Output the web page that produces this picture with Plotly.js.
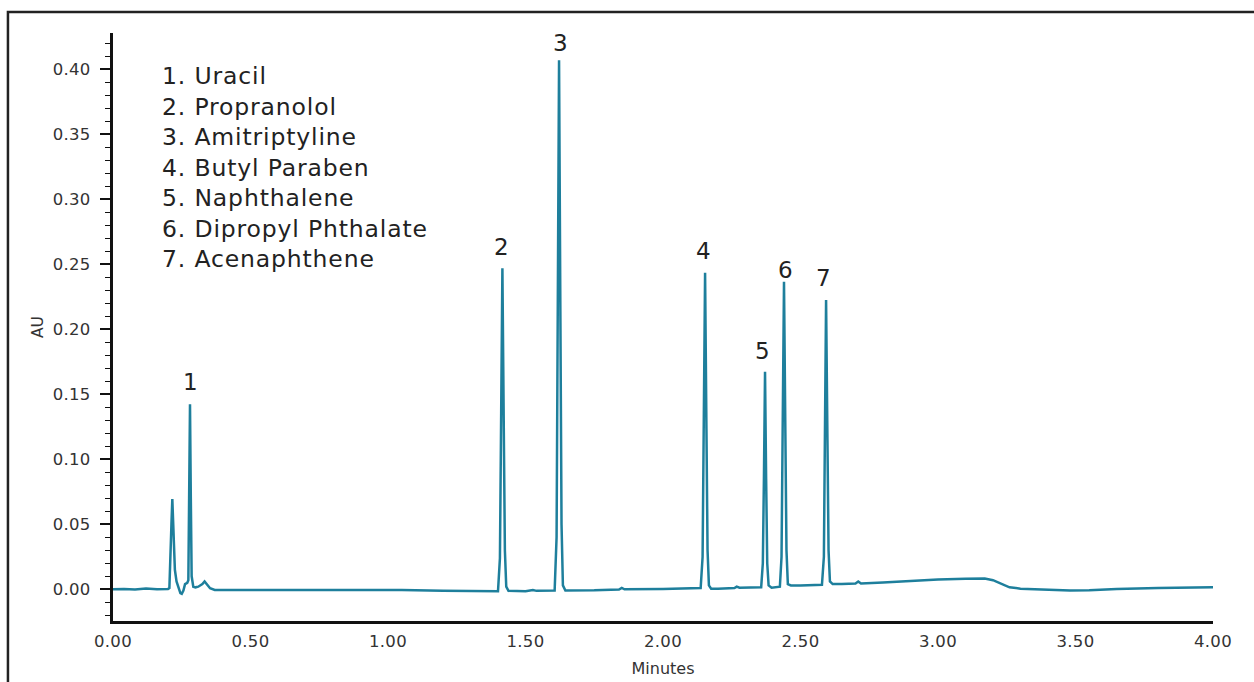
<!DOCTYPE html>
<html>
<head>
<meta charset="utf-8">
<script src="https://cdn.plot.ly/plotly-3.0.1.min.js"></script>
<style>
html,body{margin:0;padding:0;background:#fff;}
#chart{width:1254px;height:682px;}
.annotation[data-index="7"] text{letter-spacing:0.85px;}
.ytick text, .xtick text{letter-spacing:0.3px;}
</style>
</head>
<body>
<div id="chart"></div>
<script>
// Chromatogram trace (minutes, AU)
const timeMin = [
  0.000,0.040,0.080,0.120,0.160,0.200,0.205,0.209,0.2125,0.2157,0.2180,0.2210,0.2250,0.2310,0.2380,0.2450,0.2500,0.2560,0.2620,0.2700,
  0.2740,0.2770,0.2800,0.2830,0.2860,0.2920,0.3000,0.3100,0.3250,0.3330,0.3400,0.3530,0.3700,0.5000,0.7000,0.9000,1.0500,1.2000,1.3500,
  1.4000,1.4070,1.4110,1.4160,1.4210,1.4250,1.4300,1.4380,1.5000,1.5270,1.5400,
  1.6060,1.6130,1.6170,1.6220,1.6270,1.6310,1.6360,1.6450,1.7500,1.8400,1.8500,1.8600,2.0000,2.1000,
  2.1370,2.1440,2.1480,2.1530,2.1580,2.1620,2.1670,2.1750,2.2000,2.2600,2.2680,2.2780,
  2.3570,2.3630,2.3670,2.3710,2.3750,2.3790,2.3840,2.3950,
  2.4250,2.4310,2.4350,2.4400,2.4450,2.4490,2.4540,2.4650,2.5000,
  2.5780,2.5850,2.5890,2.5930,2.5980,2.6020,2.6070,2.6170,2.6500,2.7000,2.7100,2.7200,2.8000,2.9000,
  3.0000,3.1000,3.1700,3.2000,3.2300,3.2600,3.3000,3.4000,3.4800,3.5500,3.6500,3.8000,3.9000,4.0000
];
const absorbanceAU = [
  0.0000,0.0002,-0.0002,0.0006,0.0000,0.0002,0.0010,0.0200,0.0500,0.0695,0.0550,0.0300,0.0150,0.0060,0.0010,-0.0030,-0.0035,-0.0010,0.0040,0.0050,
  0.0070,0.0700,0.1423,0.0700,0.0100,0.0020,0.0015,0.0020,0.0040,0.0060,0.0040,0.0008,-0.0005,-0.0005,0.0000,0.0000,-0.0005,-0.0012,-0.0015,
  -0.0015,0.0240,0.1250,0.2470,0.1250,0.0300,0.0020,-0.0012,-0.0015,-0.0005,-0.0012,
  -0.0010,0.0400,0.2050,0.4070,0.2050,0.0500,0.0030,-0.0010,-0.0008,-0.0002,0.0010,0.0000,0.0002,0.0008,
  0.0010,0.0250,0.1230,0.2436,0.1230,0.0300,0.0030,0.0005,0.0005,0.0010,0.0020,0.0012,
  0.0015,0.0200,0.0850,0.1674,0.0850,0.0200,0.0030,0.0012,
  0.0020,0.0250,0.1200,0.2366,0.1200,0.0300,0.0040,0.0030,0.0030,
  0.0035,0.0250,0.1150,0.2225,0.1150,0.0300,0.0060,0.0040,0.0040,0.0045,0.0060,0.0045,0.0052,0.0065,
  0.0075,0.0082,0.0083,0.0070,0.0040,0.0015,0.0005,-0.0005,-0.0010,-0.0008,0.0002,0.0010,0.0014,0.0015
];

// Peak labels
const peakNumbers = ['1','2','3','4','5','6','7'];
const labelTime = [0.280, 1.411, 1.6255, 2.1465, 2.3625, 2.446, 2.583];
const labelAU = [0.1597, 0.2633, 0.4205, 0.2602, 0.1833, 0.2459, 0.2395];

// Compound list
const compounds = ['Uracil','Propranolol','Amitriptyline','Butyl Paraben','Naphthalene','Dipropyl Phthalate','Acenaphthene'];

// Tick labels
const xTickVals = [0, 0.5, 1, 1.5, 2, 2.5, 3, 3.5, 4];
const xTickText = ['0.00','0.50','1.00','1.50','2.00','2.50','3.00','3.50','4.00'];
const yTickVals = [0, 0.05, 0.10, 0.15, 0.20, 0.25, 0.30, 0.35, 0.40];
const yTickText = ['0.00','0.05','0.10','0.15','0.20','0.25','0.30','0.35','0.40'];

const FONT = 'DejaVu Sans, Verdana, sans-serif';

const trace = {
  x: timeMin, y: absorbanceAU, type: 'scatter', mode: 'lines',
  line: {color: '#1e7f9c', width: 2.5, shape: 'linear'},
  hoverinfo: 'skip', showlegend: false
};

const annotations = peakNumbers.map((p, i) => ({
  x: labelTime[i], y: labelAU[i], xref: 'x', yref: 'y', text: p, showarrow: false,
  xanchor: 'center', yanchor: 'middle', font: {family: FONT, size: 23, color: '#222'}
}));

annotations.push({
  xref: 'paper', yref: 'paper', x: 0.0427, y: 0.954, xanchor: 'left', yanchor: 'top',
  align: 'left', showarrow: false,
  text: compounds.map((c, i) => (i + 1) + '. ' + c).join('<br>'),
  font: {family: FONT, size: 23.5, color: '#222'}
});

const layout = {
  width: 1254, height: 682,
  margin: {l: 113, r: 41, t: 33, b: 61, pad: 0},
  paper_bgcolor: '#fff', plot_bgcolor: '#fff',
  font: {family: FONT, color: '#333'},
  showlegend: false,
  xaxis: {
    range: [0, 4], tickvals: xTickVals, ticktext: xTickText,
    showline: true, linecolor: '#111', linewidth: 3, ticks: '', showgrid: false, zeroline: false,
    tickfont: {family: FONT, size: 16.5, color: '#333'},
    ticklabelstandoff: 3,
    title: {text: 'Minutes', font: {family: FONT, size: 16, color: '#333'}, standoff: 14}
  },
  yaxis: {
    range: [-0.0244, 0.428], tickvals: yTickVals, ticktext: yTickText,
    showline: true, linecolor: '#111', linewidth: 3,
    ticks: 'outside', ticklen: 10, tickwidth: 2, tickcolor: '#111',
    minor: {dtick: 0.01, tick0: 0, ticks: 'outside', ticklen: 5, tickwidth: 1.5, tickcolor: '#111', showgrid: false},
    showgrid: false, zeroline: false,
    tickfont: {family: FONT, size: 16.5, color: '#333'},
    ticklabelstandoff: 6,
    title: {text: 'AU', font: {family: FONT, size: 15.5, color: '#333'}, standoff: 6}
  },
  shapes: [{
    type: 'rect', xref: 'paper', yref: 'paper',
    x0: -0.0955, x1: 1.2, y0: -0.3, y1: 1.0357,
    line: {color: '#222', width: 2.5}, fillcolor: 'rgba(0,0,0,0)', layer: 'below'
  }],
  annotations: annotations
};

Plotly.newPlot('chart', [trace], layout, {displayModeBar: false, staticPlot: true});
</script>
</body>
</html>
